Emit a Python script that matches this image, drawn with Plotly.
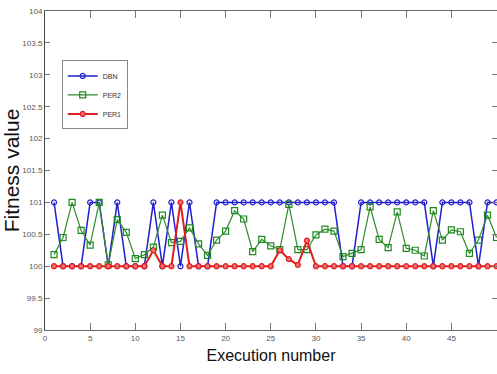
import plotly.graph_objects as go

runs = list(range(1, 51))

dbn = [101, 100, 100, 100, 101, 101, 100, 101, 100, 100,
       100, 101, 100, 101, 100, 101, 100, 100, 101, 101,
       101, 101, 101, 101, 101, 101, 101, 101, 101, 101,
       101, 101, 100, 100, 101, 101, 101, 101, 101, 101,
       101, 101, 100, 101, 101, 101, 101, 100, 101, 101]

per2 = [100.18, 100.45, 101.0, 100.56, 100.33, 101.0, 100.02, 100.73, 100.53, 100.12,
        100.18, 100.30, 100.80, 100.37, 100.39, 100.60, 100.35, 100.17, 100.41, 100.55,
        100.87, 100.74, 100.23, 100.42, 100.32, 100.26, 100.97, 100.26, 100.26, 100.49,
        100.58, 100.55, 100.15, 100.20, 100.26, 100.93, 100.42, 100.29, 100.85, 100.28,
        100.25, 100.16, 100.87, 100.41, 100.57, 100.54, 100.20, 100.41, 100.80, 100.45]

per1 = [100, 100, 100, 100, 100, 100, 100, 100, 100, 100,
        100, 100.25, 100, 100, 101, 100, 100, 100, 100, 100,
        100, 100, 100, 100, 100, 100.25, 100.11, 100.02, 100.40, 100,
        100, 100, 100, 100, 100, 100, 100, 100, 100, 100,
        100, 100, 100, 100, 100, 100, 100, 100, 100, 100]

x_ticks = [0, 5, 10, 15, 20, 25, 30, 35, 40, 45, 50]
y_ticks = [99, 99.5, 100, 100.5, 101, 101.5, 102, 102.5, 103, 103.5, 104]

narrow = "Liberation Sans Narrow, Arial Narrow, Liberation Sans, Arial, sans-serif"
sans = "Liberation Sans, Arial, Helvetica, sans-serif"

fig = go.Figure()
fig.add_trace(go.Scatter(
    x=runs, y=dbn, name="DBN", mode="lines+markers",
    line=dict(color="#1f1fd0", width=1.5),
    marker=dict(symbol="circle-open", size=5, color="#1f1fd0", line=dict(width=1.2)),
))
fig.add_trace(go.Scatter(
    x=runs, y=per2, name="PER2", mode="lines+markers",
    line=dict(color="#2e8b2e", width=1.2),
    marker=dict(symbol="square-open", size=6, color="#1e8a1e", line=dict(width=1.2)),
))
fig.add_trace(go.Scatter(
    x=runs, y=per1, name="PER1", mode="lines+markers",
    line=dict(color="#e01e1e", width=2),
    marker=dict(symbol="circle", size=5, color="#f07070", line=dict(color="#e01e1e", width=1.2)),
))

fig.update_layout(
    width=497, height=374,
    margin=dict(l=45, r=0, t=11, b=44),
    paper_bgcolor="white", plot_bgcolor="white",
    showlegend=True,
    legend=dict(
        x=0.037, y=0.845, xanchor="left", yanchor="top",
        bgcolor="white", bordercolor="#888888", borderwidth=1,
        font=dict(family=narrow, size=7, color="#333333"),
        itemwidth=30, tracegroupgap=0,
    ),
    xaxis=dict(
        range=[0, 50.05], tickvals=x_ticks, ticktext=[str(v) for v in x_ticks],
        ticks="inside", ticklen=7, tickcolor="#777777",
        showline=True, linecolor="#666666", linewidth=1, mirror="ticks",
        showgrid=False, zeroline=False,
        tickfont=dict(family=narrow, size=8, color="#555555"),
        title=dict(text="Execution number", font=dict(family=narrow, size=16, color="#111111"), standoff=8),
    ),
    yaxis=dict(
        range=[99, 104], tickvals=y_ticks, ticktext=[("%g" % v) for v in y_ticks],
        ticks="inside", ticklen=5, tickcolor="#777777",
        showline=True, linecolor="#444444", linewidth=1, mirror="ticks",
        showgrid=False, zeroline=False,
        tickfont=dict(family=narrow, size=8, color="#555555"),
        title=dict(text="Fitness value", font=dict(family=sans, size=21, color="#111111"), standoff=4),
    ),
)

fig.write_html(
    "out.html",
    config={"displayModeBar": False},
    post_script="document.body.style.margin='0';document.body.style.overflow='hidden';",
)
